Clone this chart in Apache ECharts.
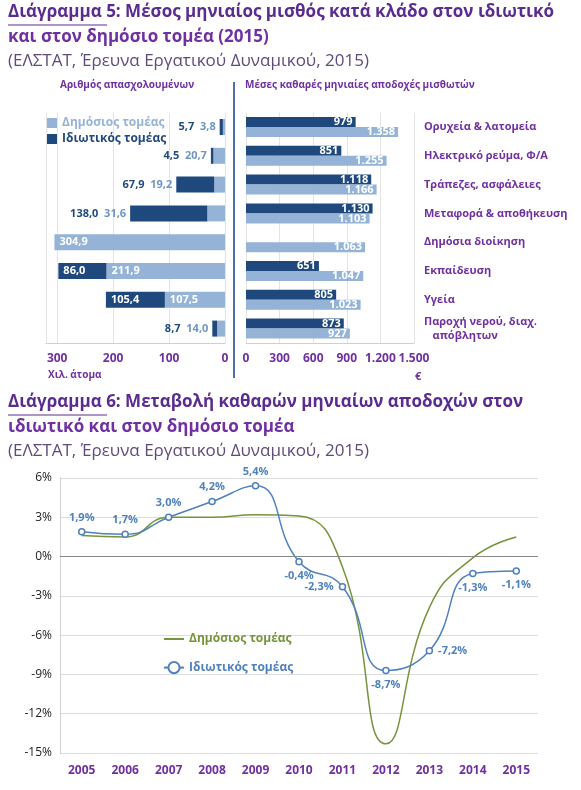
<!DOCTYPE html>
<html><head><meta charset="utf-8">
<script src="https://cdn.jsdelivr.net/npm/echarts@6/dist/echarts.min.js"></script>
<style>html,body{margin:0;padding:0;background:#fff}#c{width:581px;height:790px}</style>
</head><body><div id="c"></div>
<script>
const sectors = ['Ορυχεία & λατομεία','Ηλεκτρικό ρεύμα, Φ/Α','Τράπεζες, ασφάλειες','Μεταφορά & αποθήκευση','Δημόσια διοίκηση','Εκπαίδευση','Υγεία','Παροχή νερού, διαχ.\n   απόβλητων'];
const empPublic = [3.8,20.7,19.2,31.6,304.9,211.9,107.5,14.0];
const empPrivate = [5.7,4.5,67.9,138.0,0,86.0,105.4,8.7];
const wagePrivate = [979,851,1118,1130,null,651,805,873];
const wagePublic = [1358,1255,1166,1103,1063,1047,1023,927];
const years = ['2005','2006','2007','2008','2009','2010','2011','2012','2013','2014','2015'];
const chgPublic = [1.6,1.5,3.0,3.0,3.2,3.1,-0.8,-14.3,-3.9,-0.1,1.5];
const chgPrivate = [1.9,1.7,3.0,4.2,5.4,-0.4,-2.3,-8.7,-7.2,-1.3,-1.1];

const F = "'Open Sans', sans-serif";
const DARK = '#1F497D', LIGHT = '#95B3D7', PURP = '#7030A0', GREEN = '#77933C', BLUE = '#4F81BD';
const gr = v => v.toFixed(1).replace('.', ',');
const th = v => v >= 1000 ? Math.floor(v/1000) + '.' + String(v%1000).padStart(3,'0') : String(v);
const outside = [0,1,2,3,7];

const privData = empPrivate.map((v,i) => {
  let label;
  if (outside.includes(i)) label = {show:true, position:'left', distance:4, formatter: '{p|' + gr(v) + '}  {q|' + gr(empPublic[i]) + '}'};
  else if (v > 0) label = {show:true, position:'insideLeft', color:'#fff', formatter: gr(v)};
  else label = {show:false};
  return {value:v, label};
});
const pubData = empPublic.map((v,i) => ({value:v, label: outside.includes(i) ? {show:false} : {show:true, position:'insideLeft', color:'#fff', formatter: gr(v)}}));

const title = (y, a, b, c) => [
  {type:'text', left:8, top:y, style:{text:a, font:"bold 17px "+F, fill:'#5B2C8F'}},
  {type:'text', left:8, top:y+25, style:{text:b, font:"bold 17px "+F, fill:PURP}},
  {type:'text', left:8, top:y+49, style:{text:c, font:"17px "+F, fill:'#604A7B'}}
];

const chart = echarts.init(document.getElementById('c'));
chart.setOption({
  animation:false,
  textStyle:{fontFamily:F},
  graphic: [
    ...title(4, 'Διάγραμμα 5: Μέσος μηνιαίος μισθός κατά κλάδο στον ιδιωτικό', 'και στον δημόσιο τομέα (2015)', '(ΕΛΣΤΑΤ, Έρευνα Εργατικού Δυναμικού, 2015)'),
    ...title(394, 'Διάγραμμα 6: Μεταβολή καθαρών μηνιαίων αποδοχών στον', 'ιδιωτικό και στον δημόσιο τομέα', '(ΕΛΣΤΑΤ, Έρευνα Εργατικού Δυναμικού, 2015)'),
    {type:'line', shape:{x1:8,y1:25,x2:107,y2:25}, style:{stroke:'#5B2C8F', lineWidth:1}},
    {type:'line', shape:{x1:8,y1:415,x2:107,y2:415}, style:{stroke:'#5B2C8F', lineWidth:1}},
    {type:'line', shape:{x1:234,y1:82,x2:234,y2:378}, style:{stroke:'#4F6FA8', lineWidth:2}},
    {type:'text', left:60, top:80, style:{text:'Αριθμός απασχολουμένων', font:"bold 10px "+F, fill:PURP}},
    {type:'text', left:245, top:80, style:{text:'Μέσες καθαρές μηνιαίες αποδοχές μισθωτών', font:"bold 10px "+F, fill:PURP}},
    {type:'text', left:48, top:370, style:{text:'Χιλ. άτομα', font:"bold 10px "+F, fill:PURP}},
    {type:'text', left:415, top:371, style:{text:'€', font:"bold 11px "+F, fill:PURP}}
  ],
  legend: [
    {left:42, top:112, orient:'vertical', itemGap:4, itemWidth:10, itemHeight:10, icon:'rect',
     data:[{name:'Δημόσιος τομέας', textStyle:{color:LIGHT}},{name:'Ιδιωτικός τομέας', textStyle:{color:DARK}}],
     textStyle:{fontSize:12, fontWeight:'bold', fontFamily:F}},
    {left:158, top:628, orient:'vertical', itemGap:16, itemWidth:20,
     data:[{name:'Δημόσιος τομέας ', icon:'path://M0,0H1V0.1H0Z', textStyle:{color:GREEN}},{name:'Ιδιωτικός τομέας ', textStyle:{color:BLUE}}],
     textStyle:{fontSize:12, fontWeight:'bold', fontFamily:F}}
  ],
  grid: [
    {left:46, right:356, top:112.6, bottom:447},
    {left:246, right:167, top:112.6, bottom:447},
    {left:60, right:43, top:478, bottom:37}
  ],
  xAxis: [
    {gridIndex:0, type:'value', inverse:true, min:0, max:320, interval:100,
     axisLabel:{showMaxLabel:false, color:PURP, fontWeight:'bold', fontSize:12, margin:10},
     splitLine:{lineStyle:{color:'#e4e4e4'}}, axisLine:{show:true, lineStyle:{color:'#d0d0d0'}}},
    {gridIndex:1, type:'value', min:0, max:1500, interval:300,
     axisLabel:{color:PURP, fontWeight:'bold', fontSize:12, margin:10, formatter: v => th(v)},
     splitLine:{lineStyle:{color:'#e4e4e4'}}, axisLine:{show:true, lineStyle:{color:'#d0d0d0'}}},
    {gridIndex:2, type:'category', data:years, boundaryGap:true,
     axisLabel:{color:PURP, fontWeight:'bold', fontSize:12, interval:0, margin:12},
     axisTick:{show:false}, axisLine:{show:false}}
  ],
  yAxis: [
    {gridIndex:0, type:'category', data:sectors, inverse:true, axisLabel:{show:false}, axisTick:{show:false}, axisLine:{show:false}},
    {gridIndex:1, type:'category', data:sectors, inverse:true, position:'right', axisTick:{show:false}, axisLine:{show:false},
     axisLabel:{color:PURP, fontWeight:'bold', fontSize:11, align:'left', margin:10, lineHeight:14}},
    {gridIndex:2, type:'value', min:-15, max:6, interval:3,
     axisLabel:{color:'#222', fontSize:12, formatter:'{value}%'},
     axisLine:{show:true, lineStyle:{color:'#d0d0d0'}}, axisTick:{show:false},
     splitLine:{lineStyle:{color:'#dcdcdc'}}}
  ],
  series: [
    {name:'Δημόσιος τομέας', type:'bar', xAxisIndex:0, yAxisIndex:0, stack:'e', barWidth:16, data:pubData, itemStyle:{color:LIGHT},
     label:{fontSize:11, fontWeight:'bold'}},
    {name:'Ιδιωτικός τομέας', type:'bar', xAxisIndex:0, yAxisIndex:0, stack:'e', barWidth:16, data:privData, itemStyle:{color:DARK},
     label:{fontSize:11, fontWeight:'bold', rich:{p:{color:DARK, fontSize:11, fontWeight:'bold'}, q:{color:'#6F94C6', fontSize:11, fontWeight:'bold'}}}},
    {name:'Ιδιωτικός τομέας', type:'bar', xAxisIndex:1, yAxisIndex:1, barWidth:10, barGap:'0%', data:wagePrivate, itemStyle:{color:DARK},
     label:{show:true, position:'insideRight', color:'#fff', fontSize:11, fontWeight:'bold', distance:3, formatter:p=>th(p.value)}},
    {name:'Δημόσιος τομέας', type:'bar', xAxisIndex:1, yAxisIndex:1, barWidth:10, barGap:'0%', data:wagePublic, itemStyle:{color:LIGHT},
     label:{show:true, position:'insideRight', color:'#fff', fontSize:11, fontWeight:'bold', distance:3, formatter:p=>th(p.value)}},
    {name:'Δημόσιος τομέας ', type:'line', xAxisIndex:2, yAxisIndex:2, data:chgPublic, smooth:0.5, showSymbol:false, symbol:'none',
     lineStyle:{color:GREEN, width:1.5}, itemStyle:{color:GREEN},
     label:{show:true, color:GREEN, fontWeight:'bold', fontSize:11, formatter:p=>gr(p.value)+'%'},
     labelLayout:{}, 
     markLine:{silent:true, symbol:'none', label:{show:false}, lineStyle:{color:'#888', type:'solid', width:1}, data:[{yAxis:0}]}},
    {name:'Ιδιωτικός τομέας ', type:'line', xAxisIndex:2, yAxisIndex:2, data:chgPrivate, smooth:0.5, symbol:'circle', symbolSize:6,
     lineStyle:{color:BLUE, width:1.5}, itemStyle:{color:'#fff', borderColor:BLUE, borderWidth:1.5},
     label:{show:true, color:BLUE, fontWeight:'bold', fontSize:11, position:'top', formatter:p=>gr(p.value)+'%'}}
  ]
});
// per-point label positions for line series
const pubPos = ['bottom','bottom','bottom','bottom','bottom','bottom','right','bottom','left','top','top'];
const privPos = ['top','top','top','top','top','bottom','left','bottom','right','bottom','bottom'];
chart.setOption({series:[{},{},{},{},
  {data: chgPublic.map((v,i)=>({value:v, label:{position:pubPos[i], distance: i<6 ? 14 : 6}}))},
  {data: chgPrivate.map((v,i)=>({value:v, label:{position:privPos[i]}}))}
]});
</script></body></html>
